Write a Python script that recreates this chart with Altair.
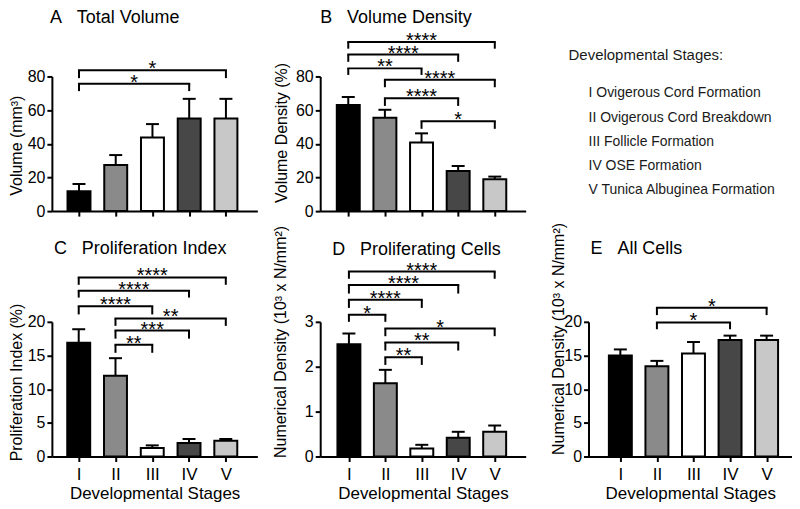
import json
import altair as alt
import pandas as pd

FONT = "Liberation Sans"

stages = ["I", "II", "III", "IV", "V"]
stage_colors = ["#000000", "#8a8a8a", "#ffffff", "#474747", "#c8c8c8"]

# bar heights (mean) and top of the SEM error bar
volume_mean = [11.8, 27.4, 43.8, 55.0, 55.0]
volume_upper = [16.1, 33.3, 51.7, 66.7, 66.7]
density_mean = [63.0, 55.5, 40.8, 23.9, 19.0]
density_upper = [67.8, 60.2, 46.2, 26.8, 20.5]
prolif_index_mean = [16.9, 12.0, 1.25, 2.0, 2.35]
prolif_index_upper = [18.9, 14.6, 1.65, 2.6, 2.6]
prolif_cells_mean = [2.50, 1.63, 0.18, 0.42, 0.55]
prolif_cells_upper = [2.74, 1.93, 0.26, 0.55, 0.69]
all_cells_mean = [15.0, 13.4, 15.3, 17.3, 17.3]
all_cells_upper = [15.9, 14.2, 17.0, 17.95, 17.95]

# significance brackets: (from stage, to stage, bracket level, leg end, label)
volume_brackets = [("I", "V", 83.7, 79.0, "*"), ("I", "IV", 75.7, 71.3, "*")]
density_brackets = [
    ("I", "V", 100.4, 96.5, "****"), ("I", "IV", 93.0, 88.7, "****"),
    ("I", "III", 84.8, 80.9, "**"), ("II", "V", 78.0, 73.6, "****"),
    ("II", "IV", 67.0, 62.5, "****"), ("III", "V", 53.4, 48.9, "*"),
]
prolif_index_brackets = [
    ("I", "V", 26.6, 25.5, "****"), ("I", "IV", 24.6, 23.6, "****"),
    ("I", "III", 22.3, 21.1, "****"), ("II", "V", 20.5, 19.4, "**"),
    ("II", "IV", 18.7, 17.5, "***"), ("II", "III", 16.6, 15.4, "**"),
]
prolif_cells_brackets = [
    ("I", "V", 4.12, 3.96, "****"), ("I", "IV", 3.82, 3.63, "****"),
    ("I", "III", 3.49, 3.31, "****"), ("I", "II", 3.16, 3.0, "*"),
    ("II", "V", 2.85, 2.68, "*"), ("II", "IV", 2.54, 2.36, "**"),
    ("II", "III", 2.21, 2.04, "**"),
]
all_cells_brackets = [("II", "V", 22.1, 21.0, "*"), ("II", "IV", 19.9, 18.9, "*")]

legend_title = "Developmental Stages:"
legend_lines = [
    "I Ovigerous Cord Formation",
    "II Ovigerous Cord Breakdown",
    "III Follicle Formation",
    "IV OSE Formation",
    "V Tunica Albuginea Formation",
]

ROW_H = 135
label_expr = json.dumps(stages) + "[datum.value]"


def panel(title, mean, upper, brackets, y_title, y_max, y_ticks, width, x_dom,
          bottom, title_x, title_y, ytitle_x, ytitle_y, ytitle_align):
    idx = list(range(len(stages)))
    bars = pd.DataFrame({"stage": stages, "idx": idx, "mean": mean, "upper": upper})
    br = pd.DataFrame(brackets, columns=["a", "b", "top", "leg", "label"])
    br["xa"] = br["a"].map(stages.index)
    br["xb"] = br["b"].map(stages.index)
    br["mid"] = (br["xa"] + br["xb"]) / 2

    x_axis = alt.Axis(values=idx, labelExpr=label_expr, labels=bottom, grid=False,
                      labelFontSize=17, labelPadding=5, titleFontSize=17,
                      titlePadding=3, labelAngle=0)
    x_title = "Developmental Stages" if bottom else None
    x_scale = alt.Scale(domain=x_dom, nice=False, zero=False)
    y_scale = alt.Scale(domain=[0, y_max], nice=False, zero=True)
    y_axis = alt.Axis(values=y_ticks, grid=False, titleAngle=270, titleX=ytitle_x,
                      titleY=ytitle_y, titleAlign=ytitle_align, titleBaseline="middle")

    def X(f):
        return alt.X(f, type="quantitative", scale=x_scale, axis=x_axis, title=x_title)

    def Y(f):
        return alt.Y(f, type="quantitative", scale=y_scale, axis=y_axis, title=y_title)

    base = alt.Chart(bars)
    err = base.mark_rule(strokeWidth=2, color="black", clip=False).encode(
        x=X("idx"), y=Y("mean"), y2="upper")
    bar = base.mark_bar(orient="vertical", size=23, stroke="black", strokeWidth=2,
                        clip=False).encode(
        x=X("idx"), y=Y("mean"),
        color=alt.Color("stage:N", scale=alt.Scale(domain=stages, range=stage_colors),
                        legend=None))
    cap = base.mark_rule(strokeWidth=2, color="black", xOffset=-6.5, x2Offset=6.5,
                         clip=False).encode(x=X("idx"), x2="idx", y=Y("upper"))

    bb = alt.Chart(br)
    hline = bb.mark_rule(strokeWidth=2, color="black", strokeCap="square",
                         clip=False).encode(x=X("xa"), x2="xb", y=Y("top"))
    lleg = bb.mark_rule(strokeWidth=2, color="black", clip=False).encode(
        x=X("xa"), y=Y("leg"), y2="top")
    rleg = bb.mark_rule(strokeWidth=2, color="black", clip=False).encode(
        x=X("xb"), y=Y("leg"), y2="top")
    stars = bb.mark_text(fontSize=20, baseline="alphabetic", dy=5, color="black",
                         font=FONT, clip=False).encode(
        x=X("mid"), y=Y("top"), text="label:N")

    ttl = alt.Chart(pd.DataFrame({"t": [title]})).mark_text(
        align="left", baseline="alphabetic", fontSize=18, font=FONT, color="black"
    ).encode(x=alt.value(title_x), y=alt.value(title_y), text="t:N")

    return alt.layer(err, bar, cap, hline, lleg, rleg, stars, ttl).properties(
        width=width, height=ROW_H)


NB = "\u00a0\u00a0\u00a0"

A = panel("A" + NB + "Total Volume", volume_mean, volume_upper, volume_brackets,
          "Volume (mm³)", 80, [0, 20, 40, 60, 80], 206, [-0.602, 4.72], False,
          -2, -54, -35, ROW_H * 0.51, "center")
B = panel("B" + NB + "Volume Density", density_mean, density_upper, density_brackets,
          "Volume Density (%)", 80, [0, 20, 40, 60, 80], 206, [-0.63, 4.707], False,
          0, -54, -39, ROW_H * 0.416, "center")
C = panel("C" + NB + "Proliferation Index", prolif_index_mean, prolif_index_upper,
          prolif_index_brackets, "Proliferation Index (%)", 20, [0, 5, 10, 15, 20],
          206, [-0.594, 4.723], True, 2, -68, -35, ROW_H * 0.447, "center")
D = panel("D" + NB + "Proliferating Cells", prolif_cells_mean, prolif_cells_upper,
          prolif_cells_brackets, "Numerical Density (10³ x N/mm²)", 3, [0, 1, 2, 3],
          206, [-0.651, 4.714], True, 12, -67, -40, ROW_H + 1, "left")
E = panel("E" + NB + "All Cells", all_cells_mean, all_cells_upper, all_cells_brackets,
          "Numerical Density (10³ x N/mm²)", 20, [0, 5, 10, 15, 20], 204,
          [-0.734, 4.558], True, 2, -68, -30, ROW_H - 2, "left")

leg_df = pd.DataFrame({"line": legend_lines, "row": list(range(1, len(legend_lines) + 1))})
leg_items = alt.Chart(leg_df).mark_text(align="left", baseline="middle", fontSize=14,
                                        font=FONT, color="#1a1a1a").encode(
    x=alt.value(0),
    y=alt.Y("row:Q", scale=alt.Scale(domain=[0.3, 0.3 + ROW_H / 24.25], reverse=True,
                                     nice=False, zero=False), axis=None),
    text="line:N")
leg_head = alt.Chart(pd.DataFrame({"t": [legend_title]})).mark_text(
    align="left", baseline="middle", fontSize=15, font=FONT, color="#1a1a1a"
).encode(x=alt.value(-20), y=alt.value(-21), text="t:N")
L = alt.layer(leg_items, leg_head).properties(width=204, height=ROW_H)

chart = alt.concat(A, B, L, C, D, E, columns=3, spacing={"row": 111, "column": 63},
                   bounds="flush").properties(padding=0).configure(
    font=FONT).configure_axis(
    domainColor="black", domainWidth=2, tickColor="black", tickWidth=2, tickSize=5,
    labelColor="black", labelFontSize=16, labelFont=FONT, labelPadding=2,
    titleColor="black", titleFontSize=16, titleFont=FONT, titleFontWeight="normal",
    grid=False).configure_view(strokeWidth=0)

chart.save("out.html", embed_options={"renderer": "svg", "actions": False})
